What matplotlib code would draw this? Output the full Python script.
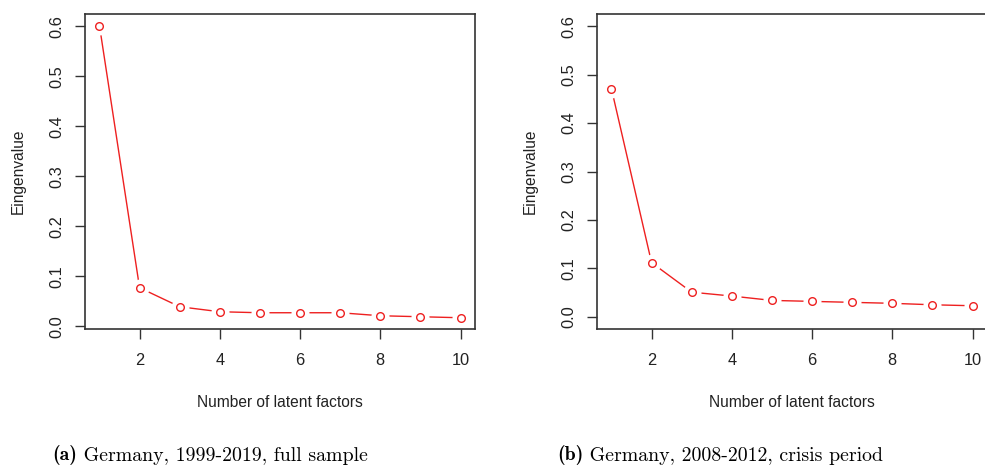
import numpy as np
import matplotlib.pyplot as plt

plt.rcParams['font.family'] = ['Liberation Sans', 'DejaVu Sans']

factors = [1, 2, 3, 4, 5, 6, 7, 8, 9, 10]
eig_full = [0.601, 0.077, 0.039, 0.029, 0.027, 0.027, 0.027, 0.021, 0.019, 0.017]
eig_crisis = [0.471, 0.112, 0.051, 0.043, 0.034, 0.032, 0.030, 0.028, 0.025, 0.023]

caption_tags = ['(a)', '(b)']
caption_texts = [' Germany, 1999-2019, full sample', ' Germany, 2008-2012, crisis period']

RED = '#ee2020'
GREY = '#333333'

fig = plt.figure(figsize=(9.85, 4.7), dpi=100)


def scree(ax, y, ylim):
    x = np.array(factors)
    ax.plot(x, y, color=RED, lw=1.0, zorder=2)
    # white blobs behind the circles leave gaps in the line, like type="b" in R
    ax.plot(x, y, ls='none', marker='o', ms=13, mfc='white', mec='none', zorder=3)
    ax.plot(x, y, ls='none', marker='o', ms=5.5, mfc='white', mec=RED, mew=1.0, zorder=4)
    ax.set_xlim(0.64, 10.36)
    ax.set_ylim(*ylim)
    ax.set_xticks([2, 4, 6, 8, 10])
    ax.set_yticks([0.0, 0.1, 0.2, 0.3, 0.4, 0.5, 0.6])
    ax.set_yticklabels(['0.0', '0.1', '0.2', '0.3', '0.4', '0.5', '0.6'],
                       rotation=90, va='center')
    ax.tick_params(direction='out', length=7, width=1.0, color=GREY,
                   labelcolor='#222222', labelsize=11.8)
    ax.tick_params(axis='x', pad=10)
    ax.tick_params(axis='y', pad=8)
    for s in ax.spines.values():
        s.set_color(GREY)
        s.set_linewidth(1.2)
    ax.set_xlabel('Number of latent factors', fontsize=11.2, color='#222222', labelpad=20)
    ax.set_ylabel('Eingenvalue', fontsize=11.2, color='#222222', labelpad=17)


ax1 = fig.add_axes([85 / 985, 0.30, 390 / 985, 0.670])
scree(ax1, eig_full, (-0.0055, 0.624))
ax2 = fig.add_axes([597 / 985, 0.30, 390 / 985, 0.670])
scree(ax2, eig_crisis, (-0.025, 0.625))

# sub-figure captions in Computer Modern
for xpos, tag, txt in zip([52 / 985, 557 / 985], caption_tags, caption_texts):
    t = fig.text(xpos, 1 - 455 / 470, tag, family='cmb10', fontsize=14.3, va='center')
    plt.annotate(txt, xy=(1, 0), xycoords=t, xytext=(0, 0), textcoords='offset points',
                 family='cmr10', fontsize=14.3, va='bottom', annotation_clip=False)

fig.savefig('out.png', dpi=100)
